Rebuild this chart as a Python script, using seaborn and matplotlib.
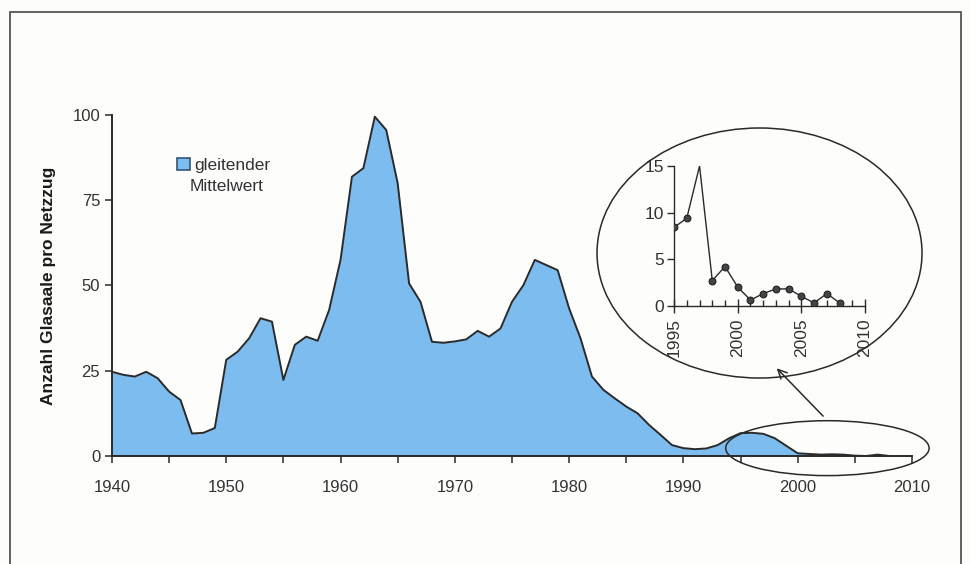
import numpy as np
import pandas as pd
import matplotlib
matplotlib.use("Agg")
import matplotlib.pyplot as plt
import seaborn as sns
from matplotlib.patches import Ellipse, Rectangle, Patch

# Data
years = list(range(1940, 2009))
mean_values = [
    24.7, 23.8, 23.3, 24.7, 22.8, 18.9, 16.4, 6.6, 6.8, 8.2,
    28.2, 30.6, 34.5, 40.4, 39.4, 22.3, 32.6, 35.0, 33.8, 42.8,
    57.5, 81.9, 84.4, 99.5, 95.6, 80.0, 50.6, 45.2, 33.5, 33.2,
    33.6, 34.2, 36.7, 35.0, 37.4, 45.2, 50.1, 57.5, 56.0, 54.5,
    43.3, 34.5, 23.3, 19.4, 16.9, 14.5, 12.5, 9.1, 6.2, 3.2,
    2.3, 2.0, 2.2, 3.2, 5.2, 6.7, 6.8, 6.5, 5.2, 3.0,
    0.8, 0.6, 0.4, 0.5, 0.4, 0.1, 0.0, 0.4, 0.0,
]

inset_years = list(range(1995, 2009))
inset_values = [8.4, 9.4, 15.0, 2.7, 4.2, 2.0, 0.6, 1.3, 1.8, 1.8, 1.0, 0.3, 1.3, 0.3]
inset_marked = [True, True, False, True, True, True, True, True, True, True, True, True, True, True]

main_yticks = [0, 25, 50, 75, 100]
main_xticks = [1940, 1950, 1960, 1970, 1980, 1990, 2000, 2010]
inset_xticks = [1995, 2000, 2005, 2010]
inset_yticks = [0, 5, 10, 15]

df = pd.DataFrame({"Jahr": years, "Wert": mean_values})
df_in = pd.DataFrame({"Jahr": inset_years, "Wert": inset_values, "marked": inset_marked})

sns.set_theme(style="white")
plt.rcParams['font.family'] = ['Liberation Sans', 'DejaVu Sans']

FILL = "#7dbcef"
INK = "#2a2a2a"
TXT = "#333333"

fig = plt.figure(figsize=(9.71, 5.64), dpi=100)
fig.patch.set_facecolor("#fdfdfc")

# outer frame of the printed box
fig.add_artist(Rectangle((0.0103, -0.05), 0.9794, 0.9787 + 0.05, transform=fig.transFigure,
                         fill=False, edgecolor="#555555", linewidth=1.3))

# --- main chart ---
ax = fig.add_axes([0.1153, 0.1915, 0.8239, 0.6046])
ax.set_facecolor("none")
ax.fill_between(df["Jahr"], df["Wert"], 0, color=FILL, linewidth=0, zorder=1)
sns.lineplot(data=df, x="Jahr", y="Wert", color=INK, linewidth=1.4, ax=ax, zorder=2)

ax.set_xlim(1940, 2010)
ax.set_ylim(0, 100)
ax.set_xticks(np.arange(1940, 2011, 5))
ax.set_xticklabels([str(y) if y in main_xticks else "" for y in np.arange(1940, 2011, 5)])
ax.set_yticks(main_yticks)
ax.tick_params(axis="both", labelsize=12, colors=INK, labelcolor=TXT, length=5, width=1.1,
               direction="out", left=True, bottom=True)
ax.tick_params(axis="x", pad=12)
for side in ["top", "right"]:
    ax.spines[side].set_visible(False)
for side in ["left", "bottom"]:
    ax.spines[side].set_color(INK)
    ax.spines[side].set_linewidth(1.4)
ax.set_xlabel("")
ax.set_ylabel("Anzahl Glasaale pro Netzzug", fontsize=12.5, fontweight="bold", color="#1a1a1a", labelpad=12)

# legend: one patch, label on two lines
leg = ax.legend(handles=[Patch(facecolor=FILL, edgecolor="#335577", linewidth=1.2)],
                labels=["gleitender"], loc="upper left", bbox_to_anchor=(0.073, 0.895),
                frameon=False, fontsize=12.5, handlelength=0.75, handleheight=0.75,
                handletextpad=0.2, borderaxespad=0)
for t in leg.get_texts():
    t.set_color(TXT)
ax.text(0.0975, 0.79, "Mittelwert", transform=ax.transAxes, fontsize=12.5, color=TXT,
        ha="left", va="center")

# highlighted region and arrow
ax.add_patch(Ellipse((2002.6, 2.3), 17.8, 16.1, fill=False, edgecolor=INK, linewidth=1.1,
                     clip_on=False, zorder=3))
ax.annotate("", xy=(1998.0, 26.3), xytext=(2002.4, 11.1),
            arrowprops=dict(arrowstyle="->", color=INK, linewidth=1.1, mutation_scale=16),
            annotation_clip=False)

# big ellipse around inset
fig.add_artist(Ellipse((0.7822, 0.5514), 0.3347, 0.4433, transform=fig.transFigure,
                       fill=False, edgecolor=INK, linewidth=1.1))

# --- inset chart ---
axi = fig.add_axes([0.6942, 0.4580, 0.1967, 0.2477])
axi.set_facecolor("none")
sns.lineplot(data=df_in, x="Jahr", y="Wert", color=INK, linewidth=1.0, ax=axi)
sns.scatterplot(data=df_in[df_in["marked"]], x="Jahr", y="Wert", color="#444444",
                edgecolor="#222222", s=24, linewidth=0.8, ax=axi, zorder=3)
axi.set_xlim(1995, 2010)
axi.set_ylim(0, 15)
axi.set_xticks(inset_xticks)
axi.set_xticks(range(1995, 2011), minor=True)
axi.set_yticks(inset_yticks)
axi.tick_params(axis="x", which="major", direction="inout", length=10, width=1.0, colors=INK,
                labelcolor=TXT, labelsize=12.5, labelrotation=90, pad=4, bottom=True)
axi.tick_params(axis="x", which="minor", direction="in", length=4, width=1.0, colors=INK, bottom=True)
axi.tick_params(axis="y", direction="out", length=5, width=1.0, colors=INK, labelcolor=TXT,
                labelsize=12.5, left=True, pad=2)
for side in ["top", "right"]:
    axi.spines[side].set_visible(False)
for side in ["left", "bottom"]:
    axi.spines[side].set_color(INK)
    axi.spines[side].set_linewidth(1.0)
axi.set_xlabel("")
axi.set_ylabel("")

fig.savefig("out.png", dpi=100, facecolor=fig.get_facecolor())
